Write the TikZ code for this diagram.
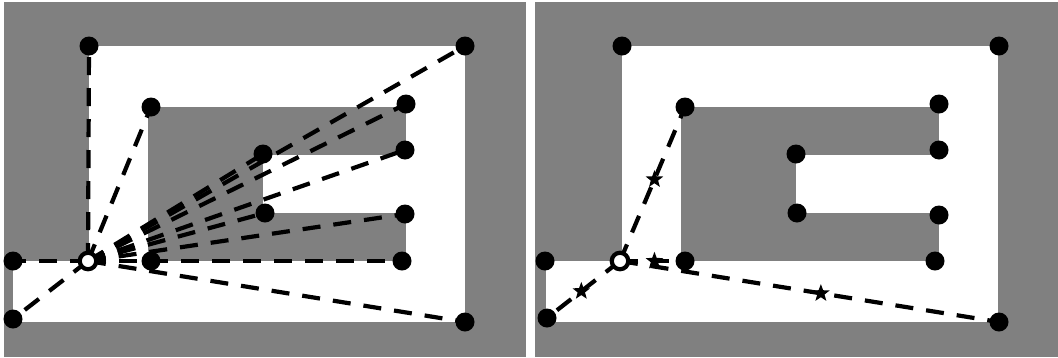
\documentclass[tikz,border=0pt]{standalone}
\usetikzlibrary{shapes.geometric}
\pgfdeclarelayer{back}
\pgfdeclarelayer{mid}
\pgfsetlayers{back,mid,main}
\definecolor{bggray}{HTML}{808080}
\begin{document}
\begin{tikzpicture}[x=1pt,y=-1pt,
  dot/.style={circle,fill=black,minimum size=19pt,inner sep=0pt},
  src/.style={circle,draw=black,fill=white,line width=4.2pt,minimum size=16.5pt,inner sep=0pt},
  dl/.style={line width=4.2pt,dash pattern=on 18pt off 13pt},
  starmark/.style={star,star points=5,star point ratio=2.4,fill=black,draw=none,solid,minimum size=18.5pt,inner sep=0pt},
  free/.style={fill=white}]
\useasboundingbox (0,0) rectangle (1058,357);
\begin{pgfonlayer}{back}
  \fill[bggray] (3.5,2) rectangle (525.5,357);
  \fill[bggray] (535,2) rectangle (1058,357);
  \foreach \s in {0,533}{
    \begin{scope}[xshift=\s pt]
      \fill[free] (89,46) rectangle (465,107);
      \fill[free] (89,46) rectangle (148,261);
      \fill[free] (406,46) rectangle (465,322);
      \fill[free] (13,261) rectangle (465,322);
      \fill[free] (263,155) rectangle (406,213);
    \end{scope}
  }
\end{pgfonlayer}
% left panel
\foreach \n/\x/\y in {1/89/46,2/465/46,3/151/107,4/406/104,5/263/154,6/405/150,7/265/213,8/405/214,9/151/261,10/402/261,11/13/261,12/13/319,13/465/322}
  \node[dot] (L\n) at (\x,\y) {};
\node[src] (Lc) at (88,261) {};
% right panel
\begin{scope}[xshift=533pt]
\foreach \n/\x/\y in {1/89/46,2/466/46,3/152/107,4/406/104,5/263/154,6/406/150,7/264/213,8/406/215,9/152/261,10/402/261,11/12/261,12/14/318,13/466/322}
  \node[dot] (R\n) at (\x,\y) {};
\node[src] (Rc) at (87,261) {};
\end{scope}
\begin{pgfonlayer}{mid}
  \foreach \n in {1,...,13}
    \draw[dl] (Lc.center) -- (L\n.center);
  \foreach \n in {3,9,12,13}
    \draw[dl] (Rc.center) -- node[starmark,pos=0.53]{} (R\n.center);
\end{pgfonlayer}
\end{tikzpicture}
\end{document}
